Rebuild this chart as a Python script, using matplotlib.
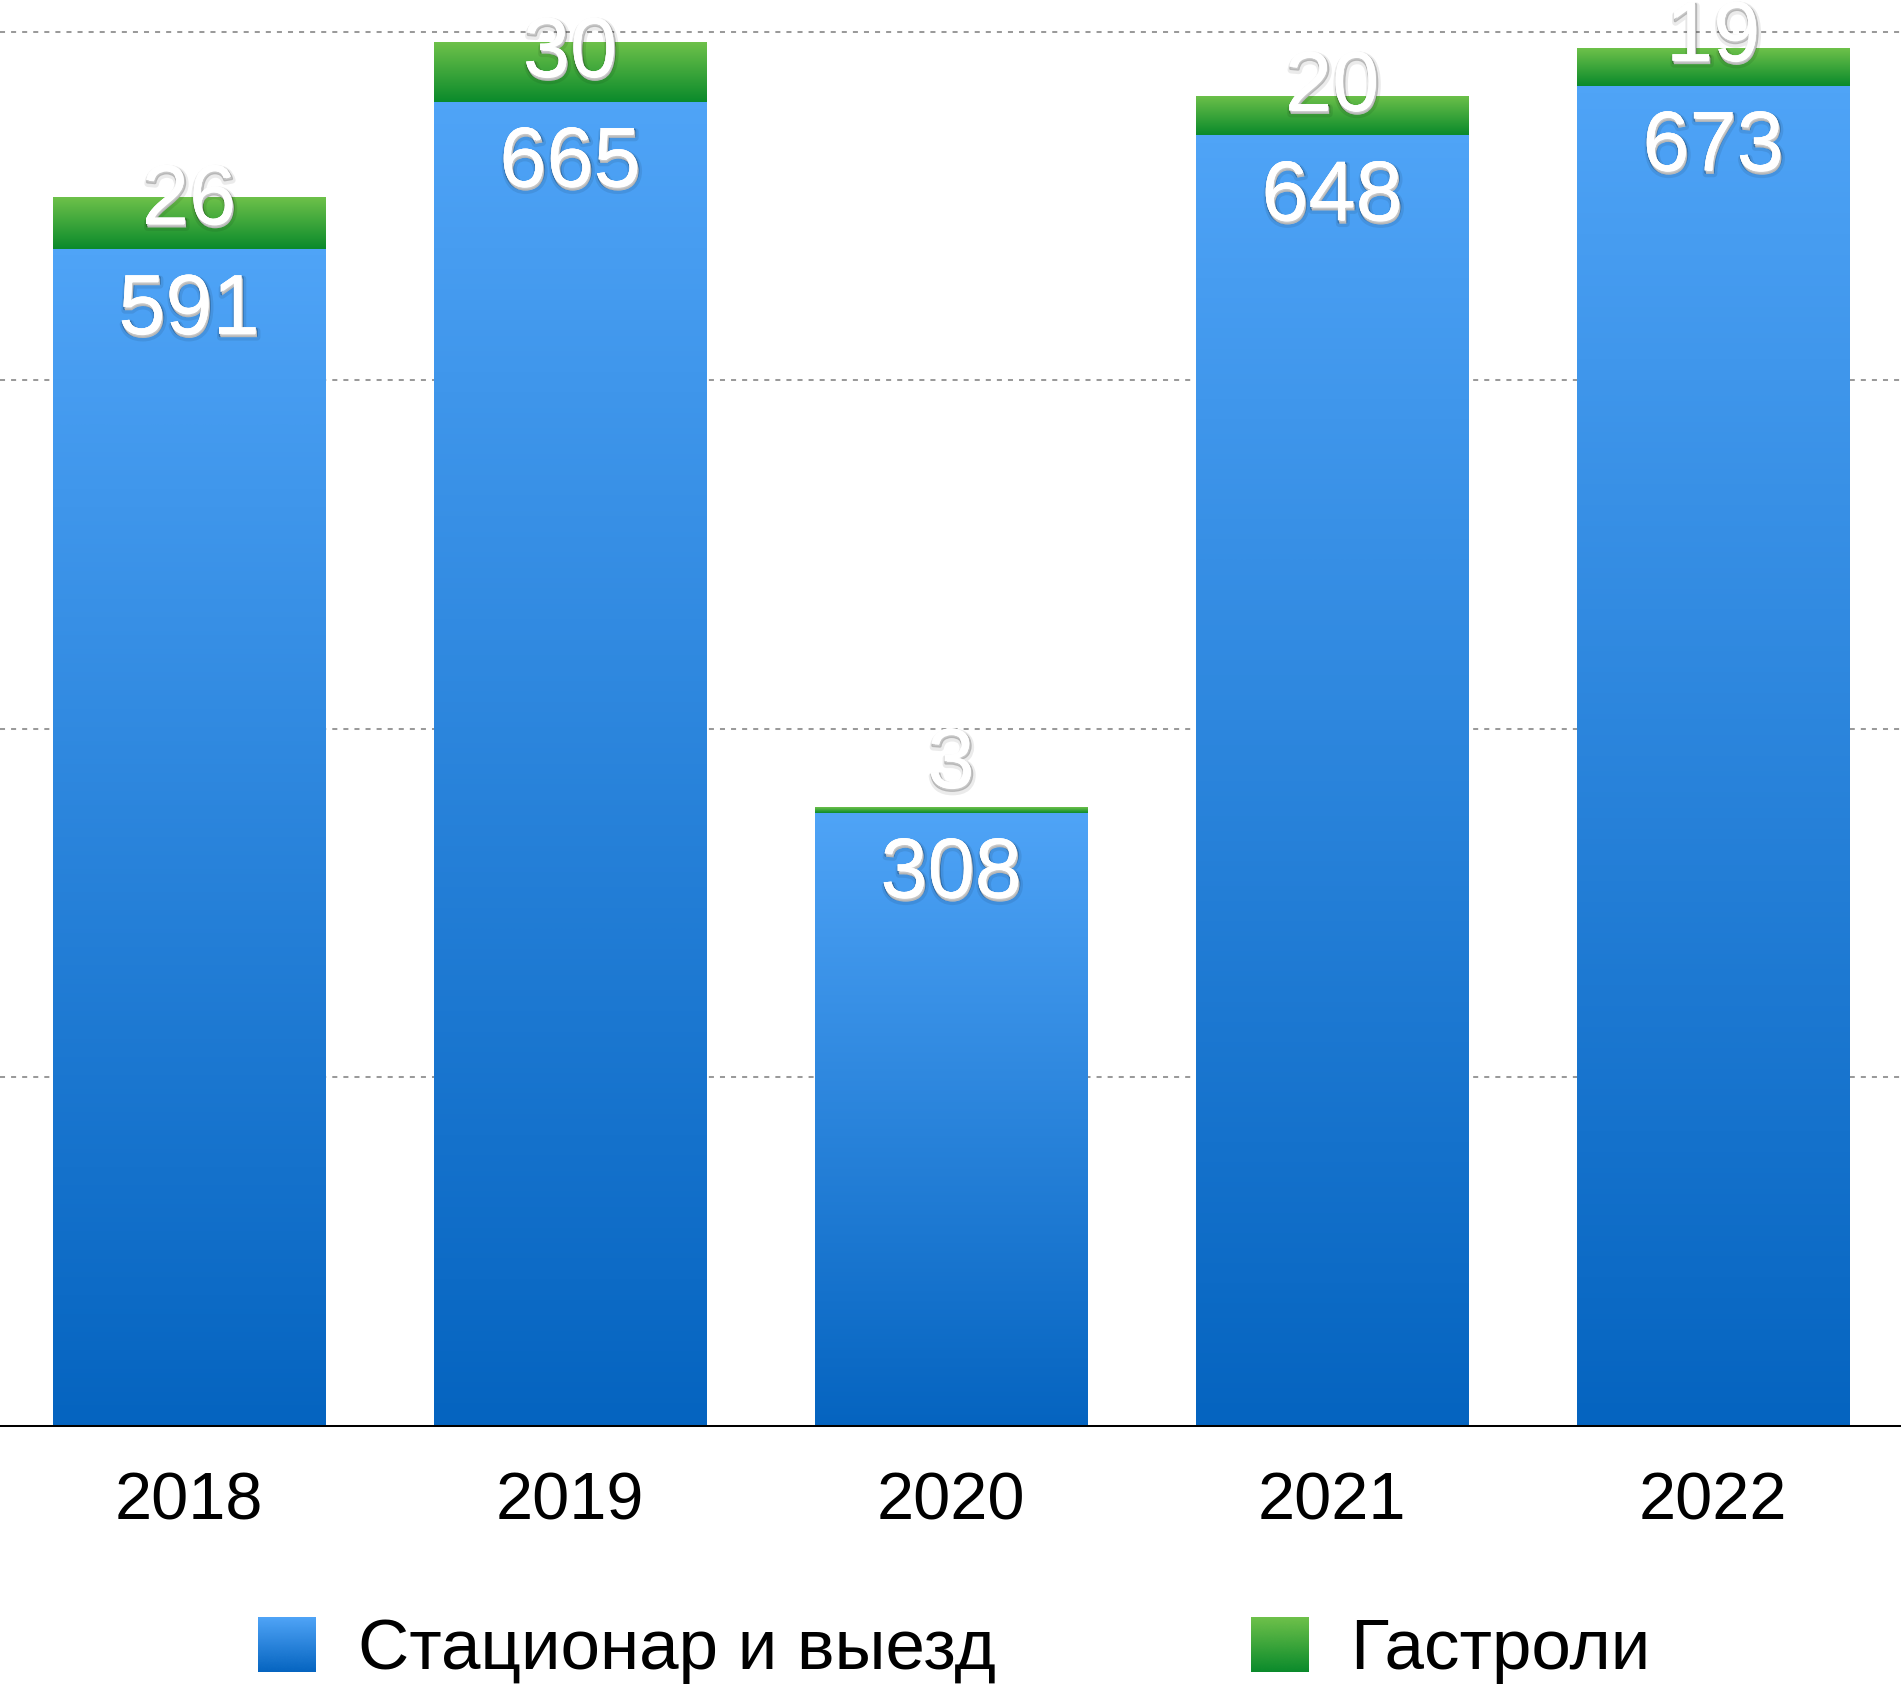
import numpy as np
import matplotlib
matplotlib.use('Agg')
import matplotlib.pyplot as plt
from matplotlib.colors import LinearSegmentedColormap
from matplotlib.patches import Patch
from matplotlib.legend_handler import HandlerBase
from matplotlib.image import BboxImage
from matplotlib.transforms import Bbox, TransformedBbox
import matplotlib.patheffects as pe

# ---- data ----
years = ['2018', '2019', '2020', '2021', '2022']
stationary = [591, 665, 308, 648, 673]
tours = [26, 30, 3, 20, 19]
series_names = ['Стационар и выезд', 'Гастроли']
grid_ticks = [175, 350, 525, 700]

plt.rcParams['font.family'] = ['Liberation Sans', 'DejaVu Sans']

blue_cmap = LinearSegmentedColormap.from_list('blue_g', ['#0564C0', '#4FA4F7'])
green_cmap = LinearSegmentedColormap.from_list('green_g', ['#0A8A2B', '#6EC14A'])
grad = np.linspace(0, 1, 256).reshape(-1, 1)

fig = plt.figure(figsize=(19.01, 16.85), dpi=100)
ax = fig.add_axes([0, 0.1537, 1, 0.8463])

x = np.arange(len(years))
width = 0.714

# gridlines
for g in grid_ticks:
    ax.axhline(g, color='#9a9a9a', lw=1.45, linestyle=(0, (2.5, 3.0)), zorder=0)

bars_b = ax.bar(x, stationary, width, color='none', edgecolor='none', zorder=2)
bars_g = ax.bar(x, tours, width, bottom=stationary, color='none', edgecolor='none', zorder=2)


def fill_gradient(bars, cmap):
    for b in bars:
        x0, y0 = b.get_x(), b.get_y()
        w, h = b.get_width(), b.get_height()
        im = ax.imshow(grad, cmap=cmap, extent=(x0, x0 + w, y0, y0 + h), origin='lower',
                       aspect='auto', interpolation='bicubic', zorder=2)
        im.set_clip_path(b)


fill_gradient(bars_b, blue_cmap)
fill_gradient(bars_g, green_cmap)

ax.set_xlim(-0.496, 4.493)
ax.set_ylim(0, 716)

for s in ['top', 'right', 'left']:
    ax.spines[s].set_visible(False)
ax.spines['bottom'].set_linewidth(1.45)
ax.spines['bottom'].set_color('black')
ax.spines['bottom'].set_zorder(3)
ax.set_yticks([])
ax.set_xticks(x)
ax.set_xticklabels(years, fontsize=48)
ax.tick_params(axis='x', length=0, pad=33)

effects = [pe.withStroke(linewidth=5, foreground=(0, 0, 0, 0.08), offset=(1, -2.5)),
           pe.withStroke(linewidth=2, foreground=(0, 0, 0, 0.22), offset=(0.7, -1.5)),
           pe.Normal()]

for xi, s, t in zip(x, stationary, tours):
    ax.annotate(str(s), xy=(xi, s), xytext=(0, -61), textcoords='offset points',
                ha='center', va='baseline', fontsize=61, color='white',
                path_effects=effects, zorder=5, annotation_clip=False)
    ax.annotate(str(t), xy=(xi, s), xytext=(0, 18), textcoords='offset points',
                ha='center', va='baseline', fontsize=61, color='white',
                path_effects=effects, zorder=5, annotation_clip=False)


class GradHandler(HandlerBase):
    def __init__(self, cmap):
        super().__init__()
        self.cmap = cmap

    def create_artists(self, legend, orig_handle, xdescent, ydescent, width, height,
                       fontsize, trans):
        bbox = TransformedBbox(Bbox.from_bounds(-xdescent, -ydescent, width, height), trans)
        im = BboxImage(bbox, cmap=self.cmap, origin='lower', interpolation='bicubic')
        im.set_data(grad)
        return [im]


h1 = Patch(facecolor='#2A84DB')
h2 = Patch(facecolor='#3CA53A')
fig.legend([h1, h2], series_names, ncol=2, loc='center', bbox_to_anchor=(0.502, 0.0205),
           fontsize=51, frameon=False, handlelength=0.81, handleheight=0.81,
           handletextpad=0.6, columnspacing=3.6, borderpad=0, borderaxespad=0,
           handler_map={h1: GradHandler(blue_cmap), h2: GradHandler(green_cmap)})

fig.savefig('out.png', dpi=100)
